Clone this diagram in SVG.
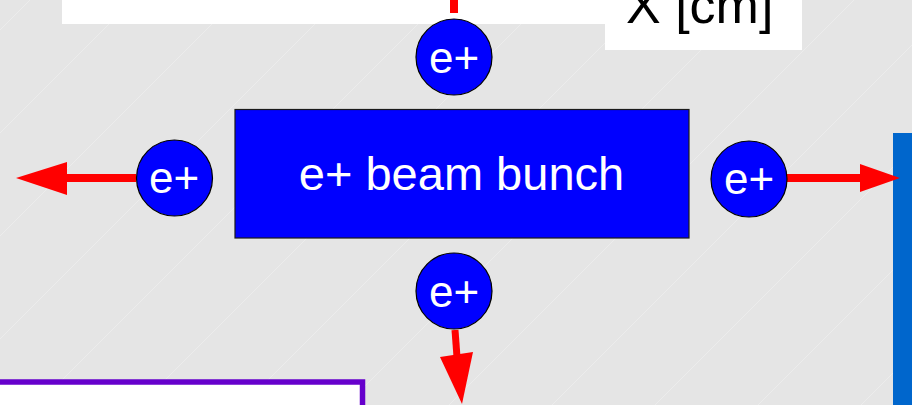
<svg xmlns="http://www.w3.org/2000/svg" width="912" height="405" viewBox="0 0 912 405">
  <style>
    .bg { fill: #e5e5e5; }
    .hatch { stroke: #ececec; stroke-width: 1; fill: none; }
    .panel { fill: #ffffff; }
    .bunch { fill: #0000ff; stroke: #1a1a1a; stroke-width: 1.2; }
    .particle { fill: #0000ff; stroke: #000000; stroke-width: 1.2; }
    .label { font-family: "Liberation Sans", Arial, sans-serif; fill: #ffffff; text-anchor: middle; }
    .plabel { font-size: 44px; }
    .axis { font-family: "Liberation Sans", Arial, sans-serif; fill: #000000; font-size: 52px; }
    .flow { stroke: #ff0000; fill: none; }
    .head { fill: #ff0000; }
  </style>

  <rect class="bg" x="0" y="0" width="912" height="405"/>
  <g id="background-hatch">
    <line class="hatch" x1="0" y1="30" x2="30" y2="0"/>
    <line class="hatch" x1="0" y1="133" x2="133" y2="0"/>
    <line class="hatch" x1="0" y1="236" x2="236" y2="0"/>
    <line class="hatch" x1="0" y1="339" x2="339" y2="0"/>
    <line class="hatch" x1="0" y1="442" x2="442" y2="0"/>
    <line class="hatch" x1="0" y1="545" x2="545" y2="0"/>
    <line class="hatch" x1="0" y1="648" x2="648" y2="0"/>
    <line class="hatch" x1="0" y1="751" x2="751" y2="0"/>
    <line class="hatch" x1="0" y1="854" x2="854" y2="0"/>
    <line class="hatch" x1="0" y1="957" x2="957" y2="0"/>
    <line class="hatch" x1="0" y1="1060" x2="1060" y2="0"/>
    <line class="hatch" x1="0" y1="1163" x2="1163" y2="0"/>
    <line class="hatch" x1="0" y1="1266" x2="1266" y2="0"/>
  </g>

  <g id="top-panel">
    <rect class="panel" x="62" y="0" width="544" height="24"/>
  </g>
  <g id="axis-label">
    <rect class="panel" x="605" y="0" width="197" height="50"/>
    <text class="axis" x="626" y="23">X [cm]</text>
  </g>
  <g id="side-bar">
    <rect x="893" y="133" width="19" height="272" fill="#0066cc"/>
  </g>
  <g id="legend-box">
    <rect x="-10" y="382" width="372.5" height="40" fill="#ffffff" stroke="#6600cc" stroke-width="5.5"/>
  </g>

  <g id="connectors">
    <line class="flow" x1="454" y1="0" x2="454" y2="13" stroke-width="8"/>
    <line class="flow" x1="136" y1="178" x2="66" y2="178" stroke-width="8"/>
    <polygon class="head" points="67,162 67,195 16,178"/>
    <line class="flow" x1="787" y1="178" x2="861" y2="178" stroke-width="8"/>
    <polygon class="head" points="860,164 860,192 900,178"/>
    <line class="flow" x1="455" y1="330" x2="457" y2="357" stroke-width="7"/>
    <polygon class="head" points="440,357 473,352 462,404"/>
  </g>

  <g id="beam-bunch">
    <rect class="bunch" x="235" y="109.5" width="454" height="128.5"/>
    <text class="label" x="461.5" y="190" font-size="47">e+ beam bunch</text>
  </g>
  <g id="positron-top">
    <circle class="particle" cx="454" cy="57" r="38"/>
    <text class="label plabel" x="454" y="73">e+</text>
  </g>
  <g id="positron-left">
    <circle class="particle" cx="174.5" cy="178" r="38"/>
    <text class="label plabel" x="174" y="193">e+</text>
  </g>
  <g id="positron-right">
    <circle class="particle" cx="749" cy="179" r="38"/>
    <text class="label plabel" x="749" y="194">e+</text>
  </g>
  <g id="positron-bottom">
    <circle class="particle" cx="454" cy="291" r="38"/>
    <text class="label plabel" x="454" y="307">e+</text>
  </g>
</svg>
